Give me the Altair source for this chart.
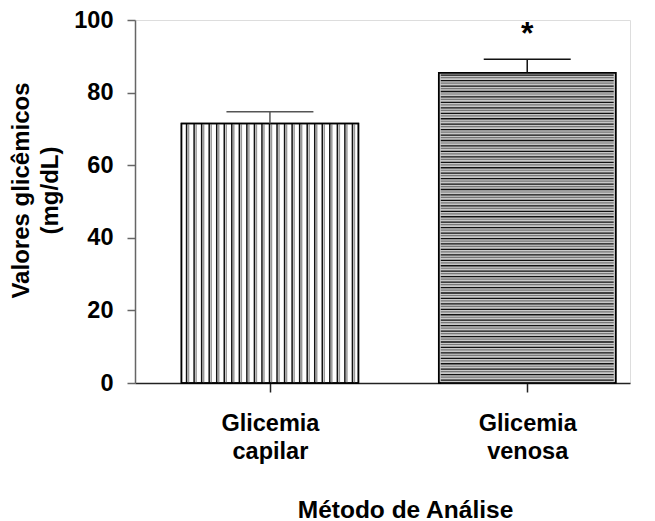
import json
import altair as alt
import pandas as pd

# ---- data ----
categories = ["Glicemia capilar", "Glicemia venosa"]
label_lines = [["Glicemia", "capilar"], ["Glicemia", "venosa"]]
means = [71.5, 85.5]
errors = [3.2, 3.7]
signif = ["", "*"]
y_ticks = [0, 20, 40, 60, 80, 100]

df = pd.DataFrame({
    "idx": [0, 1],
    "cat": categories,
    "mean": means,
    "err": errors,
    "sig": signif,
})

FONT = "Liberation Sans"
XDOM = [-0.505, 1.38]
HALF_BAR = 0.336
HALF_CAP = 0.169
FS = 23.5

xs = alt.Scale(domain=XDOM, nice=False, zero=False)
ys = alt.Scale(domain=[0, 100], nice=False)

x_axis = alt.Axis(
    values=[0, 1],
    labelExpr=json.dumps(label_lines) + "[datum.value]",
    labelFont=FONT, labelFontSize=FS, labelFontWeight="bold", labelColor="black",
    labelLineHeight=28, labelPadding=19, labelBaseline="top",
    tickSize=9, tickColor="#222", domainColor="#222", domainWidth=1.5, tickWidth=1.5,
    grid=False,
    title="Método de Análise",
    titleFont=FONT, titleFontSize=24.5, titleFontWeight="bold", titleColor="black",
    titleX=270, titleY=134, titleBaseline="alphabetic", titleAlign="center",
)
y_axis = alt.Axis(
    values=y_ticks,
    labelFont=FONT, labelFontSize=FS, labelFontWeight="bold", labelColor="black",
    labelPadding=14, tickSize=8, tickColor="#666", domainColor="#666",
    domainWidth=1.5, tickWidth=1.5, grid=False,
    title=["Valores glicêmicos", "(mg/dL)"],
    titleFont=FONT, titleFontSize=24, titleFontWeight="bold", titleColor="black",
    titleLineHeight=29, titleX=-114, titleY=170, titleAngle=270,
    titleAlign="center", titleBaseline="middle",
)

base = alt.Chart(df)

bars = base.mark_bar(size=177, stroke="black", strokeWidth=1.5).encode(
    x=alt.X("idx:Q", scale=xs, axis=x_axis),
    y=alt.Y("mean:Q", scale=ys, axis=y_axis),
    fill=alt.Fill("cat:N", scale=alt.Scale(domain=categories, range=["white", "#c8c8c8"]), legend=None),
)

# vertical stripes (capilar)
vstripe_src = alt.Chart(alt.sequence(-HALF_BAR + 0.012, HALF_BAR, 0.0293, as_="s")).transform_calculate(
    top=str(means[0]), zero="0"
)
vstripes = vstripe_src.mark_rule(color="#111", strokeWidth=1.5).encode(
    x=alt.X("s:Q", scale=xs), y=alt.Y("zero:Q", scale=ys), y2="top:Q"
)
vstripes2 = vstripe_src.mark_rule(color="#999", strokeWidth=1.5, xOffset=2).encode(
    x=alt.X("s:Q", scale=xs), y=alt.Y("zero:Q", scale=ys), y2="top:Q"
)

# horizontal stripes (venosa)
hstripe_src = alt.Chart(alt.sequence(0.8, means[1], 1.5, as_="s")).transform_calculate(
    xl=str(1 - HALF_BAR), xr=str(1 + HALF_BAR)
)
hstripes = hstripe_src.mark_rule(color="#111", strokeWidth=1.3).encode(
    y=alt.Y("s:Q", scale=ys), x=alt.X("xl:Q", scale=xs), x2="xr:Q"
)
hstripes2 = hstripe_src.mark_rule(color="#777", strokeWidth=1.2, yOffset=2.5).encode(
    y=alt.Y("s:Q", scale=ys), x=alt.X("xl:Q", scale=xs), x2="xr:Q"
)

bar_outline = base.mark_bar(size=177, fill=None, fillOpacity=0, stroke="black", strokeWidth=1.5).encode(
    x=alt.X("idx:Q", scale=xs), y=alt.Y("mean:Q", scale=ys)
)

err = base.transform_calculate(
    upper="datum.mean + datum.err",
    cl=f"datum.idx - {HALF_CAP}", cr=f"datum.idx + {HALF_CAP}",
)
ecolor = alt.Color("cat:N", scale=alt.Scale(domain=categories, range=["#555", "#111"]), legend=None)
err_v = err.mark_rule(strokeWidth=1.5).encode(
    x=alt.X("idx:Q", scale=xs), y=alt.Y("mean:Q", scale=ys), y2="upper:Q", color=ecolor
)
err_cap = err.mark_rule(strokeWidth=1.5).encode(
    x=alt.X("cl:Q", scale=xs), x2="cr:Q", y=alt.Y("upper:Q", scale=ys), color=ecolor
)

star = err.transform_calculate(sy="datum.upper + 4.3").mark_text(
    font=FONT, fontSize=32, fontWeight="bold", baseline="alphabetic", align="center", color="black"
).encode(
    x=alt.X("idx:Q", scale=xs), y=alt.Y("sy:Q", scale=ys), text="sig:N"
)

chart = alt.layer(
    bars, vstripes2, vstripes, hstripes2, hstripes, bar_outline, err_v, err_cap, star
).properties(
    width=495, height=363,
    autosize=alt.AutoSizeParams(type="none"),
    padding={"left": 127, "top": 12, "right": 17, "bottom": 138},
).configure_view(stroke=None).configure(background="white")

chart.save("out.html", embed_options={"renderer": "svg", "actions": False})
